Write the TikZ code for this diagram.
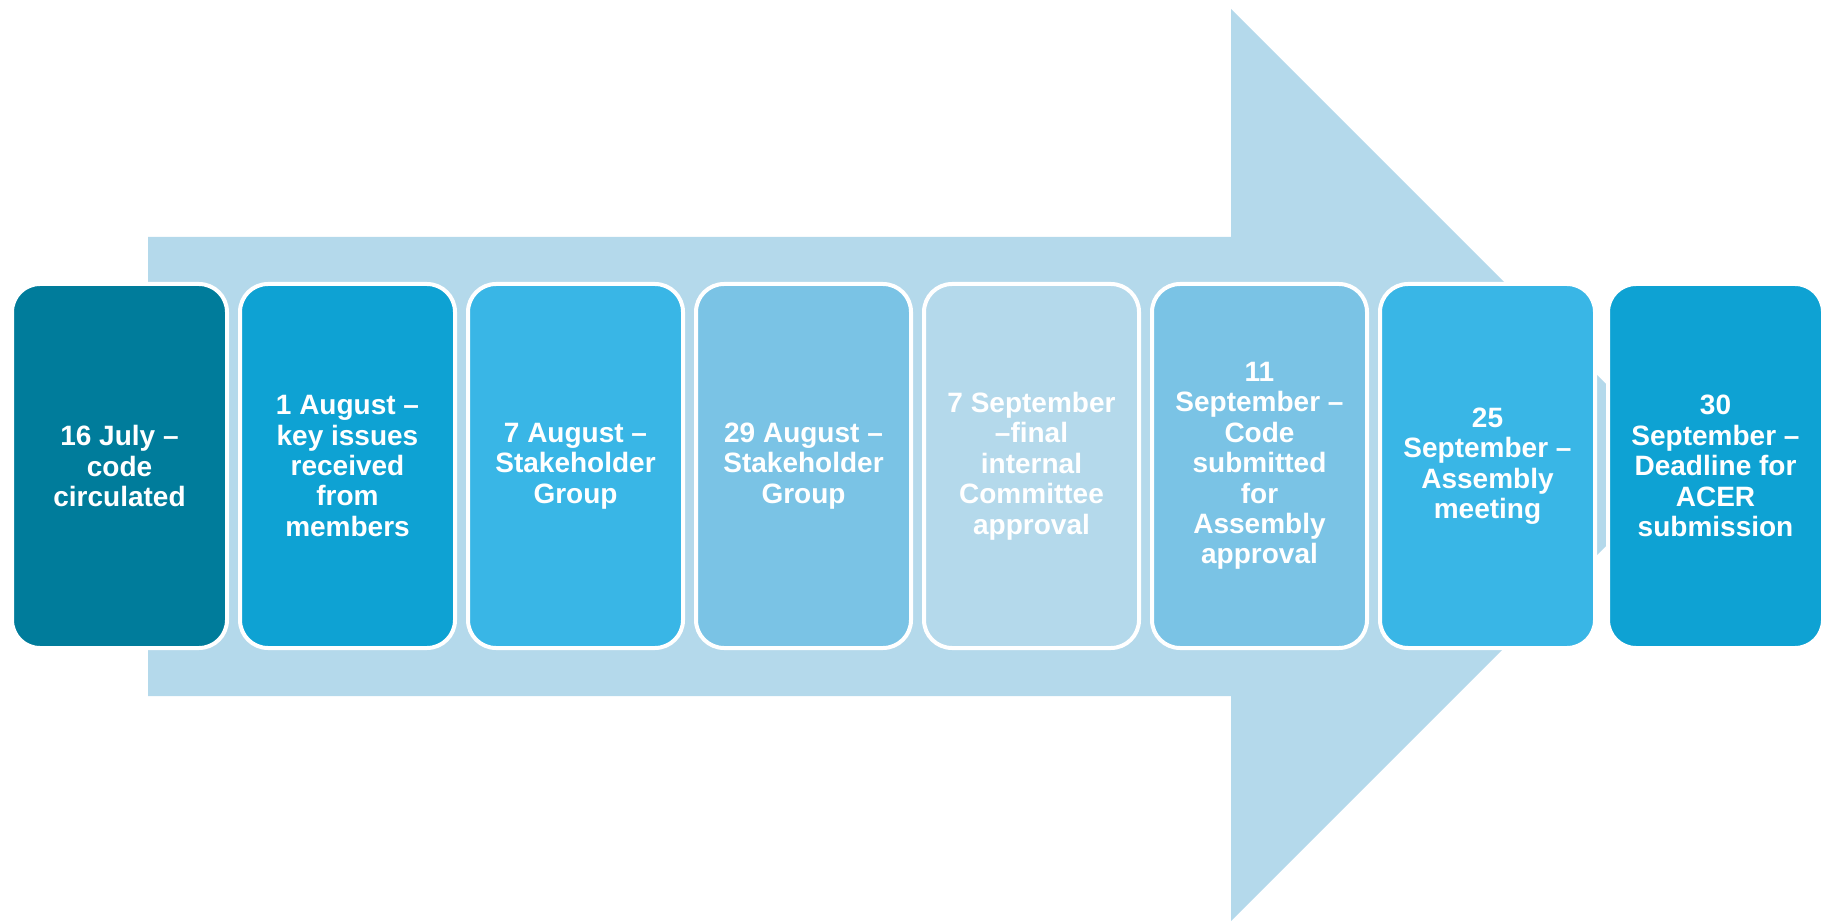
\documentclass[tikz,border=0pt]{standalone}
\usepackage{fontspec}
\setmainfont{Liberation Sans}
\definecolor{arrowc}{HTML}{B4D9EB}
\definecolor{cA}{HTML}{007C9B}
\definecolor{cB}{HTML}{0EA2D3}
\definecolor{cC}{HTML}{39B6E6}
\definecolor{cD}{HTML}{7AC3E5}
\definecolor{cE}{HTML}{B4D9EB}
\begin{document}
\begin{tikzpicture}[x=0.5pt,y=0.5pt,
  stagebox/.style={draw=white, line width=2pt, rounded corners=14pt,
    minimum width=107.5pt, minimum height=182pt, inner sep=0pt,
    align=center, text=white,
    font=\fontsize{14}{15.2}\selectfont\bfseries}]
\useasboundingbox (0,0) rectangle (1824,922);
\fill[arrowc] (148,685) -- (1231,685) -- (1231,913) -- (1687,457) -- (1231,1) -- (1231,226) -- (148,226) -- cycle;
\node[stagebox, fill=cA] (b1) at (119.5,456) {16 July –\\code\\circulated};
\node[stagebox, fill=cB] (b2) at (347.5,456) {1 August –\\key issues\\received\\from\\members};
\node[stagebox, fill=cC] (b3) at (575.5,456) {7 August –\\Stakeholder\\Group};
\node[stagebox, fill=cD] (b4) at (803.5,456) {29 August –\\Stakeholder\\Group};
\node[stagebox, fill=cE] (b5) at (1031.5,456) {7 September\\–final\\internal\\Committee\\approval};
\node[stagebox, fill=cD] (b6) at (1259.5,456) {11\\September –\\Code\\submitted\\for\\Assembly\\approval};
\node[stagebox, fill=cC] (b7) at (1487.5,456) {25\\September –\\Assembly\\meeting};
\node[stagebox, fill=cB] (b8) at (1715.5,456) {30\\September –\\Deadline for\\ACER\\submission};
\end{tikzpicture}
\end{document}
